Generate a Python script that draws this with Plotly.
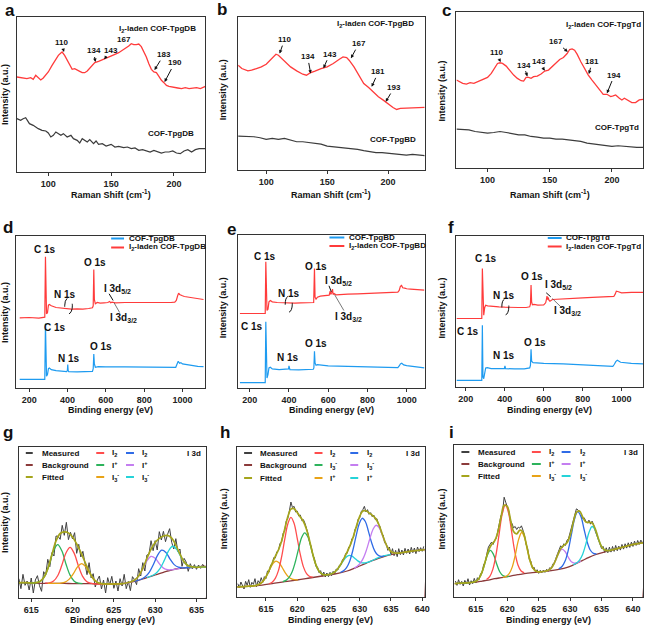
import plotly.graph_objects as go

# ================= DATA =================
# ---- a: Raman, COF-TpgDB ----
a_red_x = [75,78,80,83,86,88,90,92,94,96,98,100,103,106,108,110,111,113,115,117,119,121,123,125,127,129,131,133,135,137,140,142,144,147,150,153,156,159,162,164,166,168,170,172,174,176,178,180,182,184,186,188,190,192,194,196,198,200,203,206,209,212,215,218,221,225]
a_red_y = [285,283,282,280,283,278,290,283,276,282,292,300,320,340,350,357,360,350,335,320,308,310,307,302,298,298,303,312,322,328,332,335,338,342,348,353,358,365,372,378,385,382,382,384,376,362,345,325,308,300,298,287,275,268,260,257,255,255,252,250,253,250,252,253,250,257]
a_blk_x = [75,78,80,82,85,88,92,95,98,100,102,104,106,108,110,112,115,118,120,123,125,127,129,131,133,136,138,140,143,146,150,153,156,160,163,166,169,172,175,178,181,184,187,190,193,196,199,202,205,208,211,214,217,220,225]
a_blk_y = [160,155,160,163,145,140,130,125,123,117,105,110,120,115,110,115,105,110,100,95,87,100,95,90,97,85,93,83,85,78,83,75,77,73,75,70,72,65,67,63,60,65,60,57,60,60,63,57,55,63,67,60,67,70,70]
# ---- b: Raman, COF-TpgBD ----
b_red_x = [77,80,85,88,92,96,100,103,106,108,110,113,116,120,125,130,133,136,140,145,150,155,160,163,166,168,172,176,180,184,188,192,196,200,204,207,210,215,220,225,230]
b_red_y = [315,305,298,300,305,310,318,330,342,348,345,335,322,310,298,288,285,292,297,305,310,320,333,340,338,330,310,285,260,248,235,220,210,198,188,182,185,186,186,187,188]
b_blk_x = [77,85,90,95,100,105,110,115,120,125,130,135,140,145,150,155,160,165,170,175,180,185,190,195,200,205,210,215,220,225,230]
b_blk_y = [102,102,100,97,92,95,92,95,90,85,85,82,80,78,72,70,68,67,65,62,58,55,52,52,50,48,45,45,47,45,43]
# ---- c: Raman, COF-TpgTd ----
c_red_x = [75,78,80,83,86,89,92,95,98,100,103,106,108,110,112,115,118,121,124,127,129,131,133,135,137,140,143,146,149,152,155,158,161,164,166,168,170,172,175,178,181,184,187,190,193,196,199,201,203,206,208,210,212,214,216,219,222,225]
c_red_y = [265,260,255,253,257,255,260,267,270,273,285,305,315,317,315,307,293,280,270,263,262,273,273,270,275,277,283,292,295,305,315,327,333,345,357,359,355,343,320,300,280,265,250,235,222,222,215,217,220,210,205,210,205,200,197,197,205,207]
c_blk_x = [75,80,85,90,95,100,105,110,115,120,125,130,135,140,145,150,155,160,165,170,175,180,185,190,195,200,205,210,215,220,225]
c_blk_y = [117,115,115,110,107,105,107,110,107,103,100,100,95,93,90,90,87,87,85,83,80,75,73,70,67,65,67,65,63,62,62]

# ---- d: XPS survey TpgDB ----
d_red_x = [150,200,250,278,281,284.5,287,290,295,300,305,315,340,370,395,405,420,450,480,510,525,530,534,537,540,545,555,570,590,610,620,625,632,650,700,750,800,850,900,940,960,968,975,980,985,990,1000,1010,1030,1060,1090,1110]
d_red_y = [210,211,209,210,212,393,262,222,225,248,250,246,241,239,237,238,236,237,236,238,239,240,246,355,265,252,256,254,255,256,259,255,257,255,256,255,256,256,255,256,257,262,276,284,280,278,276,274,272,270,267,265]
d_blu_x = [150,200,250,281,284.5,287,290,295,300,305,315,340,370,395,399,401,403,406,450,500,525,530,534,537,540,545,560,600,700,800,900,950,965,972,978,985,992,1000,1020,1050,1080,1110]
d_blu_y = [26,26,26,26,193,60,35,40,58,60,55,52,50,49,52,70,52,49,48,48,49,50,58,102,72,62,64,63,63,62,61,60,62,72,80,74,76,72,70,67,65,64]
# ---- e: XPS survey TpgBD ----
e_red_x = [150,200,250,279,282,285,288,293,298,305,315,340,370,400,430,460,500,520,526,530,533,538,545,560,590,605,610,613,618,622,625,630,640,660,700,750,800,850,900,940,955,962,968,974,980,990,1000,1020,1050,1090]
e_red_y = [223,223,223,223,378,255,232,236,258,262,258,256,255,255,254,255,255,254,256,358,272,266,272,275,276,278,290,280,286,296,280,283,279,280,281,282,283,284,285,286,287,292,304,307,300,299,297,296,294,293]
e_blu_x = [150,250,279,282,285,288,293,298,305,315,350,395,398,400,402,405,450,500,524,527,530,533,538,545,600,700,800,900,955,962,968,975,985,1000,1050,1090]
e_blu_y = [16,16,16,198,50,30,40,60,62,57,55,55,57,66,56,55,54,54,56,60,110,75,68,70,66,65,64,62,61,66,72,74,69,67,63,60]
# ---- f: XPS survey TpgTd ----
f_red_x = [152,200,250,282,285,288,292,297,302,312,340,370,400,430,470,510,528,532,535,538,542,550,570,600,610,614,617,620,623,627,632,645,700,750,800,850,900,940,960,967,973,980,990,1000,1050,1110]
f_red_y = [205,205,205,205,355,225,215,238,245,243,241,240,239,238,238,238,240,248,305,255,246,247,245,246,252,262,272,262,268,260,257,262,263,265,267,268,270,270,271,278,287,286,283,282,283,283]
f_blu_x = [152,250,282,285,288,292,297,302,310,330,370,398,401,404,450,500,528,532,535,538,545,570,600,700,800,900,955,963,970,978,986,995,1050,1110]
f_blu_y = [20,20,20,185,30,25,45,57,58,55,55,55,63,55,54,54,57,65,113,77,73,72,71,69,67,65,62,68,76,80,76,74,71,69]

# ---- g: I 3d, TpgDB ----
g_meas_x = [613.5,613.75,614,614.25,614.5,614.75,615,615.25,615.5,615.75,616,616.25,616.5,616.75,617,617.25,617.5,617.75,618,618.25,618.5,618.75,619,619.25,619.5,619.75,620,620.25,620.5,620.75,621,621.25,621.5,621.75,622,622.25,622.5,622.75,623,623.25,623.5,623.75,624,624.25,624.5,624.75,625,625.25,625.5,625.75,626,626.25,626.5,626.75,627,627.25,627.5,627.75,628,628.25,628.5,628.75,629,629.25,629.5,629.75,630,630.25,630.5,630.75,631,631.25,631.5,631.75,632,632.25,632.5,632.75,633,633.25,633.5,633.75,634,634.25,634.5,634.75,635,635.25,635.5,635.75,636]
g_meas_y = [58,28,71,38,51,24,60,15,54,67,37,20,79,69,116,94,136,126,186,185,176,218,188,227,175,197,177,196,134,161,123,140,104,70,106,60,73,33,54,66,27,54,15,61,39,65,29,51,21,58,36,71,28,50,22,64,55,40,88,66,106,81,129,131,172,142,172,144,199,174,200,169,191,208,167,147,178,139,147,95,119,108,80,103,88,100,86,99,89,101,92]
g_bg_x = [613.5,615,617,619,620,622,624,625.5,626,626.5,627,627.5,628,628.5,629,629.5,630,630.5,631,631.5,632,632.5,633,633.5,634,635,636.2,636.2]
g_bg_y = [46,45,44,44,43,43,42,42,43,45,47,50,53,57,61,65,69,73,77,81,84,87,89,90,91,92,93,0]
g_fit_x = [613.5,614,614.5,615,615.5,616,616.5,617,617.5,618,618.5,619,619.5,620,620.5,621,621.5,622,622.5,623,623.5,624,624.5,625,625.5,626,626.5,627,627.5,628,628.5,629,629.5,630,630.5,631,631.5,632,632.5,633,633.5,634,634.5,635,635.5,636,636.2]
g_fit_y = [46,46,46,45,45.7,49.1,60.7,87.5,130.4,171.5,193.5,198.2,195.4,182.8,162,136.7,108.1,80.1,57.9,46.9,43.1,42.2,42,42,42,43,45.1,47.8,53.8,66,88.8,118.8,146.8,166.5,178.8,186.2,187.7,179.4,158.9,131.4,108.4,96.8,93.3,92.2,93,93,93]
g_i2a_x = [616.7,617.2,617.7,618.2,618.7,619.2,619.7,620.2,620.7,621.2,621.7,622.2,622.7,624]
g_i2a_y = [45,45.4,50.8,66.8,98,134.8,152,133.8,97,65.8,49.8,44.4,42,42]
g_ipa_x = [613.5,614.5,615.2,615.7,616.2,616.7,617.2,617.7,618.2,618.7,619.2,619.7,620.2,620.7,621.2]
g_ipa_y = [46,46,45,46.5,52,69.5,102,141.6,160,141.6,102,68.5,50.3,44.5,43]
g_i3a_x = [617,618.6,619.1,619.6,620.1,620.6,621.1,621.6,622.1,622.6,623.1,623.6,625,626]
g_i3a_y = [44,44.8,47.8,56.7,73,93.5,103,93.5,73,55.7,45.8,42.8,42,43]
g_i2b_x = [627.5,628.3,628.8,629.3,629.8,630.3,630.8,631.3,631.8,632.3,632.8,633.3,634,635]
g_i2b_y = [50,56.3,63.7,77.7,101.4,128.6,143.4,136.6,116.8,100.1,92.5,90.5,91,92]
g_ipb_x = [626,627,627.5,628,628.5,629,629.5,630,630.5,631,631.5,632,633]
g_ipb_y = [43,47.8,53.8,65.7,87,111.5,125,119.5,103,89.7,84.8,84.8,89]
g_i3b_x = [629,629.6,630.1,630.6,631.1,631.6,632.1,632.6,633.1,633.6,634.1,634.6,635.5,636.2]
g_i3b_y = [61,66.7,74.2,88.6,112.8,140.5,155.2,146.3,124.2,105,95.6,92.9,93,93]

# ---- h: I 3d, TpgBD ----
h_meas_x = [610.5,610.75,611,611.25,611.5,611.75,612,612.25,612.5,612.75,613,613.25,613.5,613.75,614,614.25,614.5,614.75,615,615.25,615.5,615.75,616,616.25,616.5,616.75,617,617.25,617.5,617.75,618,618.25,618.5,618.75,619,619.25,619.5,619.75,620,620.25,620.5,620.75,621,621.25,621.5,621.75,622,622.25,622.5,622.75,623,623.25,623.5,623.75,624,624.25,624.5,624.75,625,625.25,625.5,625.75,626,626.25,626.5,626.75,627,627.25,627.5,627.75,628,628.25,628.5,628.75,629,629.25,629.5,629.75,630,630.25,630.5,630.75,631,631.25,631.5,631.75,632,632.25,632.5,632.75,633,633.25,633.5,633.75,634,634.25,634.5,634.75,635,635.25,635.5,635.75,636,636.25,636.5,636.75,637,637.25,637.5,637.75,638,638.25,638.5,638.75,639,639.25,639.5,639.75,640,640.25]
h_meas_y = [40,28,45,33,24,47,35,52,29,44,38,55,31,49,42,58,44,61,55,78,74,96,98,118,117,136,139,160,165,191,199,228,236,258,285,268,272,255,258,243,246,229,232,221,205,189,163,151,126,116,92,90,73,79,62,75,60,72,61,74,64,77,70,84,81,95,96,112,113,130,131,150,153,175,178,203,210,233,238,256,262,272,255,262,248,253,241,246,232,235,218,211,190,186,162,160,140,150,128,145,124,140,121,145,127,141,126,146,131,144,129,149,133,147,130,150,136,148,137,152]
h_bg_x = [610.4,612,614,616,618,620,622,624,626,627,628,629,630,631,632,633,634,635,636,637,638,639,640,640.4,640.4]
h_bg_y = [30,32,35,40,46,51,57,63,69,73,78,85,93,101,109,116,122,127,131,134,137,139,141,142,0]
h_fit_x = [610.4,611,611.5,612,612.5,613,613.5,614,614.5,615,615.5,616,616.5,617,617.5,618,618.5,619,619.5,620,620.5,621,621.5,622,622.5,623,623.5,624,624.5,625,625.5,626,626.5,627,627.5,628,628.5,629,629.5,630,630.5,631,631.5,632,632.5,633,633.5,634,634.5,635,635.5,636,636.5,637,637.5,638,638.5,639,639.5,640,640.4]
h_fit_y = [30,31,31.5,32,32.6,33.3,35.3,39,46.6,60.2,79.8,101.5,121.6,141.1,167.3,203.1,240.6,263.7,265.2,253.6,240.3,226.1,202.8,167.6,128.3,96.2,77,68.4,66.2,67,69.7,75.1,84.9,99,116.6,135.3,156.4,182.4,213.4,242,257.8,258.9,252.4,245.5,236.6,220,194.6,168.1,147.5,136.5,132.2,131.9,132.5,134,135.5,137,138,139,140,141,142]
h_i2a_x = [615.5,616,616.5,617,617.5,618,618.5,619,619.5,620,620.5,621,621.5,622,622.5]
h_i2a_y = [39.7,44.6,55.9,79.3,119.6,171.8,218.9,239,221.4,176.8,127.6,90.3,69.9,61.6,59.7]
h_i3a_x = [617.7,618.2,618.7,619.2,619.7,620.2,620.7,621.2,621.7,622.2,622.7,623.2,623.7,624.2,624.7]
h_i3a_y = [46,49.9,58.6,75.8,104.9,143,177.6,192.6,180.6,149,113.6,87,72.6,66.9,66]
h_ipa_x = [610.5,612,613.1,613.6,614.1,614.6,615.1,615.6,616.1,616.6,617.1,617.6,618.1,618.6,619.1,619.6,620.1]
h_ipa_y = [30.5,32,33.6,35.8,40.2,48.8,63.4,82.5,99.8,107.8,102.8,88.5,72.4,60.4,54.2,51.8,51.7]
h_i2b_x = [626.9,627.4,627.9,628.4,628.9,629.4,629.9,630.4,630.9,631.4,631.9,632.4,632.9,633.4,633.9]
h_i2b_y = [73.5,78.4,88.1,107.5,139.6,180.9,218.5,236.2,226.5,196.9,163.6,138.5,125.9,121.8,122.3]
h_i3b_x = [629.1,629.6,630.1,630.6,631.1,631.6,632.1,632.6,633.1,633.6,634.1,634.6,635.1,635.6,636.1]
h_i3b_y = [86.4,92.2,101.6,117.3,142.1,173.3,201.8,215.2,208.6,187.1,162.8,144.5,135.2,131.8,131.9]
h_ipb_x = [624.7,625.2,625.7,626.2,626.7,627.2,627.7,628.2,628.7,629.2,629.7,630.2,630.7,631.2,631.7,633,634,635]
h_ipb_y = [65.4,67.7,71.5,78.4,89.6,103.8,117.1,124.4,123.5,116.4,108.4,103.2,102,103.7,106.9,118,124,128]

# ---- i: I 3d, TpgTd ----
i_meas_x = [611.75,612,612.25,612.5,612.75,613,613.25,613.5,613.75,614,614.25,614.5,614.75,615,615.25,615.5,615.75,616,616.25,616.5,616.75,617,617.25,617.5,617.75,618,618.25,618.5,618.75,619,619.25,619.5,619.75,620,620.25,620.5,620.75,621,621.25,621.5,621.75,622,622.25,622.5,622.75,623,623.25,623.5,623.75,624,624.25,624.5,624.75,625,625.25,625.5,625.75,626,626.25,626.5,626.75,627,627.25,627.5,627.75,628,628.25,628.5,628.75,629,629.25,629.5,629.75,630,630.25,630.5,630.75,631,631.25,631.5,631.75,632,632.25,632.5,632.75,633,633.25,633.5,633.75,634,634.25,634.5,634.75,635,635.25,635.5,635.75,636,636.25,636.5,636.75,637,637.25,637.5,637.75,638,638.25,638.5,638.75,639,639.25,639.5,639.75,640,640.25,640.5,640.75,641,641.25,641.5]
i_meas_y = [48,35,52,38,47,33,50,39,55,36,49,40,56,42,58,52,70,73,98,104,130,150,158,165,158,172,176,199,214,245,254,300,285,268,258,229,221,208,212,203,210,207,214,201,184,158,145,113,108,86,90,75,82,71,80,73,81,74,83,77,88,85,99,104,120,130,142,154,148,160,155,170,176,193,206,230,244,265,262,256,252,236,238,228,222,231,219,228,217,198,186,170,160,146,152,134,148,133,150,135,152,137,155,139,153,141,158,144,160,147,163,149,165,152,168,155,170,158,171,164]
i_bg_x = [611.6,612,613,614,615,616,617,618,619,620,621,622,623,624,625,626,627,628,629,630,631,632,633,634,635,636,637,638,639,640,641,641.6,641.6]
i_bg_y = [40,41,42,43,45,48,51,55,58,61,65,68,71,73,75,77,79,82,86,92,101,110,119,127,133,138,143,148,153,158,161,163,0]
i_fit_x = [611.6,612,612.5,613,613.5,614,614.5,615,615.5,616,616.5,617,617.5,618,618.5,619,619.5,620,620.5,621,621.5,622,622.5,623,623.5,624,624.5,625,625.5,626,626.5,627,627.5,628,628.5,629,629.5,630,630.5,631,631.5,632,632.5,633,633.5,634,634.5,635,635.5,636,636.5,637,637.5,638,638.5,639,639.5,640,640.5,641,641.5,641.6]
i_fit_y = [40,41,41.5,42,42.5,43,44.4,47.3,55.8,75.6,107.3,139.3,157.9,168.9,194.7,239.8,275.9,272.4,233.8,197.2,189.8,200.9,195.4,160.9,118.1,89.9,78.4,75.8,76,77.4,80.1,87,102.5,124.9,145.4,155.2,163.2,185.3,223.6,254.6,258.6,240.6,225.2,224.3,222.9,204.9,175.1,151.8,141.1,139.2,140.7,143,145.5,148,150.5,153,155.5,158,159.5,161,162.5,163]
i_i2a_x = [616.7,617.2,617.7,618.2,618.7,619.2,619.7,620.2,620.7,621.2,621.7,622.2,622.7]
i_i2a_y = [52.5,61.3,83.1,126.1,188.8,250,277.1,253.2,195.5,136.1,96.4,78.1,72.5]
i_ipa_x = [612,614.3,614.8,615.3,615.8,616.3,616.8,617.3,617.8,618.3,618.8,619.3,619.8,620.3]
i_ipa_y = [41,43.8,45.7,51.4,66,92.9,124.4,140.2,128.2,99.9,76,64.4,61.5,62.1]
i_i3a_x = [619.3,619.8,620.3,620.8,621.3,621.8,622.3,622.8,623.3,623.8,624.3,624.8,625.3]
i_i3a_y = [59.2,62,70.1,90.6,128.4,172.5,193.9,175.5,134.1,99,81.5,76.2,75.9]
i_i2b_x = [628.2,628.7,629.2,629.7,630.2,630.7,631.2,631.7,632.2,632.7,633.2,633.7,634.2]
i_i2b_y = [84.5,91.6,108,140.2,187.3,234.1,256.8,243.1,205.3,166.3,141.4,131.4,129.9]
i_ipb_x = [625.7,626.2,626.7,627.2,627.7,628.2,628.7,629.2,629.7,630.2,630.7,631.2,631.7]
i_ipb_y = [76.5,78.2,82.1,92,110.6,132.4,143.8,136.8,119.7,106.2,102,103.6,107.4]
i_i3b_x = [630.5,631,631.5,632,632.5,633,633.5,634,634.5,635,635.5,636,636.5]
i_i3b_y = [96.7,102.2,111.1,128.8,159,193.8,212,201.8,174.5,151.8,141.1,139.2,140.7]

# ================= STYLE / LAYOUT =================
W, H = 650, 626
FONT = "Liberation Sans, Arial, Helvetica, sans-serif"
RED = "#ff3b3b"
BLUE = "#1e9bf0"
DARK = "#3c3c3c"
MEAS = "#404040"
BGC = "#8b3a3a"
FITC = "#a5a51c"
C_I2A = "#ff4d4d"
C_GRN = "#2db35c"
C_ORG = "#e8a317"
C_I2B = "#2f6be6"
C_PUR = "#c47ef0"
C_CYN = "#25d3d8"


def px(x):
    return x / W


def py(y):
    return 1 - y / H


DOM = {1: (17, 207, 17, 172), 2: (240, 428, 17, 170), 3: (460, 648, 12, 168),
       4: (16, 207, 236, 388), 5: (240, 428, 235, 388), 6: (460, 648, 236, 387),
       7: (19, 208, 447, 598), 8: (239, 428, 447, 597), 9: (458, 648, 445, 597)}
XR = {1: [75, 225], 2: [77, 230], 3: [75, 225], 4: [130, 1120], 5: [141, 1092],
      6: [152, 1110], 7: [613.5, 636.2], 8: [610.4, 640.4], 9: [611.6, 641.6]}
YR = {1: [0, 465], 2: [0, 460], 3: [0, 470], 4: [0, 455], 5: [0, 458], 6: [0, 452],
      7: [0, 453], 8: [0, 450], 9: [0, 457]}
TV = {1: [100, 150, 200], 2: [100, 150, 200], 3: [100, 150, 200],
      4: [200, 400, 600, 800, 1000], 5: [200, 400, 600, 800, 1000], 6: [200, 400, 600, 800, 1000],
      7: [615, 620, 625, 630, 635], 8: [615, 620, 625, 630, 635, 640], 9: [615, 620, 625, 630, 635, 640]}


def sfx(n):
    return "" if n == 1 else str(n)


layout = dict(width=W, height=H, margin=dict(l=0, r=0, t=0, b=0),
              paper_bgcolor="white", plot_bgcolor="white", showlegend=False,
              font=dict(family=FONT, color="#222"))
for n in range(1, 10):
    x0, x1, y0, y1 = DOM[n]
    layout["xaxis" + sfx(n)] = dict(
        domain=[px(x0), px(x1)], range=XR[n], anchor="y" + sfx(n),
        showline=True, mirror=True, linecolor="#333", linewidth=1,
        ticks="outside", ticklen=3, tickwidth=1, tickcolor="#333",
        tickvals=TV[n], tickfont=dict(family=FONT, size=9, color="#222", weight="bold"),
        showgrid=False, zeroline=False, fixedrange=True)
    layout["yaxis" + sfx(n)] = dict(
        domain=[py(y1), py(y0)], range=YR[n], anchor="x" + sfx(n),
        showline=True, mirror=True, linecolor="#333", linewidth=1,
        showticklabels=False, ticks="", showgrid=False, zeroline=False, fixedrange=True)

fig = go.Figure()


def add(n, x, y, color, width=1.2, shape="linear"):
    fig.add_trace(go.Scatter(x=x, y=y, mode="lines", xaxis="x" + sfx(n), yaxis="y" + sfx(n),
                             line=dict(color=color, width=width, shape=shape),
                             hoverinfo="skip", cliponaxis=True))


# Raman
add(1, a_blk_x, a_blk_y, DARK, 1.2)
add(1, a_red_x, a_red_y, RED, 1.3)
add(2, b_blk_x, b_blk_y, DARK, 1.2)
add(2, b_red_x, b_red_y, RED, 1.3)
add(3, c_blk_x, c_blk_y, DARK, 1.2)
add(3, c_red_x, c_red_y, RED, 1.3)
# XPS survey
add(4, d_blu_x, d_blu_y, BLUE, 1.2)
add(4, d_red_x, d_red_y, RED, 1.2)
add(5, e_blu_x, e_blu_y, BLUE, 1.2)
add(5, e_red_x, e_red_y, RED, 1.2)
add(6, f_blu_x, f_blu_y, BLUE, 1.2)
add(6, f_red_x, f_red_y, RED, 1.2)
# I 3d fits
for n, meas, bg, fit, comps in [
    (7, (g_meas_x, g_meas_y), (g_bg_x, g_bg_y), (g_fit_x, g_fit_y),
     [(g_ipa_x, g_ipa_y, C_GRN), (g_i2a_x, g_i2a_y, C_I2A), (g_i3a_x, g_i3a_y, C_ORG),
      (g_ipb_x, g_ipb_y, C_PUR), (g_i2b_x, g_i2b_y, C_I2B), (g_i3b_x, g_i3b_y, C_CYN)]),
    (8, (h_meas_x, h_meas_y), (h_bg_x, h_bg_y), (h_fit_x, h_fit_y),
     [(h_ipa_x, h_ipa_y, C_ORG), (h_i2a_x, h_i2a_y, C_I2A), (h_i3a_x, h_i3a_y, C_GRN),
      (h_ipb_x, h_ipb_y, C_CYN), (h_i2b_x, h_i2b_y, C_I2B), (h_i3b_x, h_i3b_y, C_PUR)]),
    (9, (i_meas_x, i_meas_y), (i_bg_x, i_bg_y), (i_fit_x, i_fit_y),
     [(i_ipa_x, i_ipa_y, C_GRN), (i_i2a_x, i_i2a_y, C_I2A), (i_i3a_x, i_i3a_y, C_ORG),
      (i_ipb_x, i_ipb_y, C_PUR), (i_i2b_x, i_i2b_y, C_I2B), (i_i3b_x, i_i3b_y, C_CYN)]),
]:
    add(n, meas[0], meas[1], MEAS, 1.0)
    add(n, bg[0], bg[1], BGC, 1.3, "spline")
    for cx, cy, col in comps:
        add(n, cx, cy, col, 1.3, "spline")
    add(n, fit[0], fit[1], FITC, 1.7, "spline")

annotations = []
shapes = []


def ptext(x, y, s, size=9, xanchor="center", angle=0, yanchor="middle"):
    annotations.append(dict(x=px(x), y=py(y), xref="paper", yref="paper", text=s,
                            showarrow=False, xanchor=xanchor, yanchor=yanchor,
                            textangle=angle, font=dict(family=FONT, size=size, color="#111")))


def dtext(n, x, y, s, size=9, xanchor="center"):
    annotations.append(dict(x=x, y=y, xref="x" + sfx(n), yref="y" + sfx(n), text=s,
                            showarrow=False, xanchor=xanchor, yanchor="middle",
                            font=dict(family=FONT, size=size, color="#111")))


def arrowlabel(n, s, tx, ty, hx, hy):
    annotations.append(dict(x=hx, y=hy, ax=tx, ay=ty, xref="x" + sfx(n), yref="y" + sfx(n),
                            axref="x" + sfx(n), ayref="y" + sfx(n), text="<b>%s</b>" % s,
                            showarrow=True, arrowhead=2, arrowsize=0.7, arrowwidth=1,
                            arrowcolor="#111", standoff=0,
                            font=dict(family=FONT, size=8, color="#111")))


def pline(x0, y0, x1, y1, color, width=2, dash="solid"):
    shapes.append(dict(type="line", xref="paper", yref="paper", x0=px(x0), y0=py(y0),
                       x1=px(x1), y1=py(y1), line=dict(color=color, width=width, dash=dash)))


def dline(n, x0, y0, x1, y1, color="#111", width=0.8, dash="solid"):
    shapes.append(dict(type="line", xref="x" + sfx(n), yref="y" + sfx(n), x0=x0, y0=y0,
                       x1=x1, y1=y1, line=dict(color=color, width=width, dash=dash)))


# panel letters
for s, x, y in [("a", 10, 11), ("b", 224, 10), ("c", 450, 11), ("d", 8, 227), ("e", 233, 229),
                ("f", 455, 227), ("g", 8, 432), ("h", 227, 432), ("i", 455, 432)]:
    ptext(x, y, "<b>%s</b>" % s, size=17)

# axis titles
for n in (1, 2, 3):
    x0, x1, y0, y1 = DOM[n]
    ptext((x0 + x1) / 2, 194, "<b>Raman Shift (cm<sup>-1</sup>)</b>", 9)
for n in (4, 5, 6):
    x0, x1, y0, y1 = DOM[n]
    ptext((x0 + x1) / 2, 410, "<b>Binding energy (eV)</b>", 9)
for n in (7, 8, 9):
    x0, x1, y0, y1 = DOM[n]
    ptext((x0 + x1) / 2, 620, "<b>Binding energy (eV)</b>", 9)
for x, y in [(5, 94), (225, 90), (445, 91), (5, 312), (225, 308), (445, 308),
             (5, 522), (226, 519), (445, 519)]:
    ptext(x, y, "<b>Intensity (a.u.)</b>", 9, angle=-90)

# Raman labels
dtext(1, 187, 429, "<b>I<sub>2</sub>-laden COF-TpgDB</b>", 8)
dtext(1, 198, 115, "<b>COF-TpgDB</b>", 8)
dtext(2, 190, 438, "<b>I<sub>2</sub>-laden COF-TpgBD</b>", 8)
dtext(2, 204, 92, "<b>COF-TpgBD</b>", 8)
dtext(3, 193, 430, "<b>I<sub>2</sub>-laden COF-TpgTd</b>", 8)
dtext(3, 204, 123, "<b>COF-TpgTd</b>", 8)
for n, labs in [
    (1, [("110", 110.5, 387, 112.5, 360), ("134", 136, 363, 137.5, 330), ("143", 149.5, 365, 144.5, 338),
         ("167", 160, 396, 166.5, 384), ("183", 192, 352, 184.5, 306), ("190", 200.5, 327, 192.5, 270)]),
    (2, [("110", 115, 392, 111, 350), ("134", 134, 340, 136.5, 290), ("143", 152, 348, 147, 306),
         ("167", 176, 380, 169.5, 336), ("181", 192, 295, 186.5, 250), ("193", 205, 248, 198, 205)]),
    (3, [("110", 107, 347, 110.5, 319), ("134", 129, 310, 132, 276), ("143", 141.5, 320, 146, 293),
         ("167", 155, 380, 164.5, 350), ("181", 184, 320, 181.5, 283), ("194", 202, 280, 196, 225)]),
]:
    for s, tx, ty, hx, hy in labs:
        arrowlabel(n, s, tx, ty, hx, hy)

# XPS survey labels
for n, labs, ell, lead in [
    (4, [("C 1s", 281, 416), ("C 1s", 336, 180), ("O 1s", 545, 376), ("O 1s", 574, 123),
         ("N 1s", 384, 280), ("N 1s", 410, 88),
         ("I 3d<sub>5/2</sub>", 660, 296), ("I 3d<sub>3/2</sub>", 690, 210)],
     (405, 246, 20, 24), [(617, 282, 638, 262), (643, 255, 672, 226)]),
    (5, [("C 1s", 279, 393), ("C 1s", 212, 185), ("O 1s", 537, 363), ("O 1s", 537, 133),
         ("N 1s", 402, 283), ("N 1s", 394, 90),
         ("I 3d<sub>5/2</sub>", 655, 320), ("I 3d<sub>3/2</sub>", 702, 213)],
     (399, 251, 18, 24), [(604, 306, 616, 288), (632, 280, 680, 232)]),
    (6, [("C 1s", 305, 385), ("C 1s", 212, 167), ("O 1s", 542, 332), ("O 1s", 556, 133),
         ("N 1s", 398, 273), ("N 1s", 398, 95),
         ("I 3d<sub>5/2</sub>", 678, 305), ("I 3d<sub>3/2</sub>", 720, 227)],
     (403, 240, 18, 24), [(613, 282, 636, 270), (644, 265, 695, 236)]),
]:
    for s, x, y in labs:
        dtext(n, x, y, "<b>%s</b>" % s, 10)
    cx, cy, rx, ry = ell
    shapes.append(dict(type="circle", xref="x" + sfx(n), yref="y" + sfx(n),
                       x0=cx - rx, x1=cx + rx, y0=cy - ry, y1=cy + ry,
                       line=dict(color="#111", width=1, dash="dash")))
    (a0, b0, a1, b1), (c0, e0, c1, e1) = lead
    dline(n, a0, b0, a1, b1, "#111", 1, "dash")
    dline(n, c0, e0, c1, e1, "#555", 0.8)

# survey legends (manual)
for (lx0, lx1, tx, y1, y2, name) in [(112, 125, 128, 238.5, 247.5, "TpgDB"),
                                      (332, 347, 350, 237.5, 246, "TpgBD"),
                                      (552, 566, 568, 238, 246.5, "TpgTd")]:
    pline(lx0, y1, lx1, y1, BLUE, 2)
    pline(lx0, y2, lx1, y2, RED, 2)
    ptext(tx, y1, "<b>COF-%s</b>" % name, 8, xanchor="left")
    ptext(tx, y2, "<b>I<sub>2</sub>-laden COF-%s</b>" % name, 8, xanchor="left")

# fit legends (manual)
I2 = "<b>I<sub>2</sub></b>"
IP = "<b>I<sup>+</sup></b>"
I3 = "<b>I<sub>3</sub><sup>-</sup></b>"
for (rows, c1, c2, c3, col2, col3, i3dx) in [
    ((453, 465, 477), (26, 33, 40), (97, 105, 111), (127, 135, 141),
     [(I2, C_I2A), (IP, C_GRN), (I3, C_ORG)], [(I2, C_I2B), (IP, C_PUR), (I3, C_CYN)], 205),
    ((453, 465, 478), (246, 254, 260), (317, 325, 331), (353, 361, 368),
     [(I2, C_I2A), (I3, C_GRN), (IP, C_ORG)], [(I2, C_I2B), (I3, C_PUR), (IP, C_CYN)], 425),
    ((452, 464, 476), (465, 473, 480), (536, 545, 551), (566, 575, 582),
     [(I2, C_I2A), (IP, C_GRN), (I3, C_ORG)], [(I2, C_I2B), (IP, C_PUR), (I3, C_CYN)], 645),
]:
    for r, (s, col) in zip(rows, [("<b>Measured</b>", MEAS), ("<b>Background</b>", BGC), ("<b>Fitted</b>", FITC)]):
        pline(c1[0], r, c1[1], r, col, 2)
        ptext(c1[2], r, s, 8, xanchor="left")
    for r, (s, col) in zip(rows, col2):
        pline(c2[0], r, c2[1], r, col, 2)
        ptext(c2[2], r, s, 8, xanchor="left")
    for r, (s, col) in zip(rows, col3):
        pline(c3[0], r, c3[1], r, col, 2)
        ptext(c3[2], r, s, 8, xanchor="left")
    ptext(i3dx, rows[0], "<b>I 3d</b>", 8, xanchor="right")

layout["annotations"] = annotations
layout["shapes"] = shapes
fig.update_layout(**layout)
fig.write_html("out.html", config={"displayModeBar": False},
               post_script="document.body.style.margin='0px';")
